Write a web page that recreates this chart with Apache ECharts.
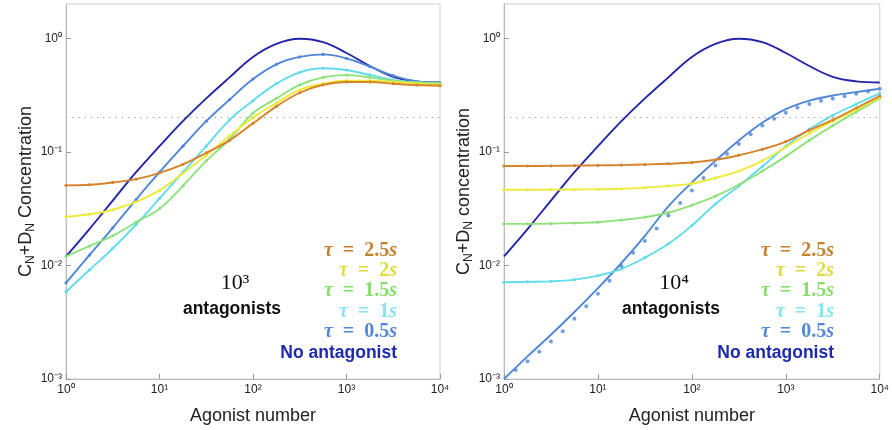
<!DOCTYPE html>
<html><head><meta charset="utf-8">
<script src="https://cdn.jsdelivr.net/npm/echarts@6/dist/echarts.min.js"></script>
<style>html,body{margin:0;padding:0;background:#fff}#c{width:892px;height:430px}</style>
</head><body><div id="c"></div>
<script>
// ---------- data ----------
const agonist = [1, 1.78, 3.16, 5.62, 10, 17.8, 31.6, 56.2, 100, 178, 316, 562, 1000, 1780, 3160, 5620, 10000];
const agonistSim = [1.33, 1.78, 2.37, 3.16, 4.22, 5.62, 7.5, 10, 13.3, 17.8, 23.7, 31.6, 42.2, 56.2, 75, 100,
  133, 178, 237, 316, 422, 562, 750, 1000, 1330, 1780, 2370, 3160, 4220, 5620, 7500, 10000];
const xTickLabels = ['10⁰', '10¹', '10²', '10³', '10⁴'];
const yTickLabels = ['10⁻³', '10⁻²', '10⁻¹', '10⁰'];
const threshold = 0.2;
const legendLabels = ['2.5', '2', '1.5', '1', '0.5'];

// No antagonist (same in both panels)
const noAntagonist = [0.0120, 0.0209, 0.0372, 0.0661, 0.112, 0.186, 0.295, 0.452, 0.684, 0.891, 0.989, 0.923, 0.741, 0.569, 0.457, 0.417, 0.407];

// 10^3 antagonists
const a3_tau05 = [0.00703, 0.0123, 0.0214, 0.0380, 0.0661, 0.112, 0.186, 0.288, 0.437, 0.589, 0.684, 0.720, 0.664, 0.562, 0.468, 0.417, 0.405];
const a3_tau1  = [0.00586, 0.00912, 0.0141, 0.0229, 0.0389, 0.0661, 0.112, 0.191, 0.282, 0.398, 0.501, 0.543, 0.525, 0.475, 0.430, 0.409, 0.403];
const a3_tau15 = [0.0120, 0.0148, 0.0182, 0.0240, 0.0316, 0.0501, 0.0832, 0.129, 0.219, 0.295, 0.389, 0.452, 0.473, 0.452, 0.422, 0.407, 0.400];
const a3_tau2  = [0.0268, 0.0282, 0.0309, 0.0363, 0.0457, 0.0646, 0.0933, 0.138, 0.200, 0.269, 0.351, 0.398, 0.422, 0.422, 0.412, 0.400, 0.390];
const a3_tau25 = [0.0506, 0.0513, 0.0537, 0.0575, 0.0653, 0.0776, 0.0977, 0.126, 0.178, 0.251, 0.331, 0.389, 0.412, 0.412, 0.398, 0.387, 0.382];

// 10^4 antagonists
const a4_tau05 = [0.00100, 0.00158, 0.00245, 0.00389, 0.00631, 0.0105, 0.0182, 0.0331, 0.0537, 0.0832, 0.126, 0.180, 0.237, 0.282, 0.313, 0.335, 0.359];
const a4_tau1  = [0.00711, 0.00716, 0.00724, 0.00750, 0.00813, 0.00933, 0.0117, 0.0155, 0.0224, 0.0347, 0.0501, 0.0741, 0.112, 0.158, 0.209, 0.263, 0.327];
const a4_tau15 = [0.0232, 0.0232, 0.0233, 0.0236, 0.0240, 0.0251, 0.0266, 0.0292, 0.0339, 0.0407, 0.0513, 0.0676, 0.0912, 0.126, 0.170, 0.224, 0.295];
const a4_tau2  = [0.0463, 0.0463, 0.0465, 0.0466, 0.0468, 0.0473, 0.0484, 0.0501, 0.0525, 0.0589, 0.0676, 0.0832, 0.110, 0.145, 0.186, 0.234, 0.299];
const a4_tau25 = [0.0750, 0.0750, 0.0752, 0.0755, 0.0759, 0.0764, 0.0773, 0.0785, 0.0804, 0.0851, 0.0933, 0.105, 0.123, 0.155, 0.191, 0.243, 0.309];
// simulation dots, tau = 0.5 s, 10^4 antagonists
const a4_tau05_sim = [0.00120, 0.00143, 0.00174, 0.00214, 0.00263, 0.00339, 0.00437, 0.00562, 0.00733, 0.00989, 0.0129, 0.0164,
  0.0211, 0.0275, 0.0355, 0.0457, 0.0589, 0.0759, 0.0955, 0.117, 0.143, 0.170, 0.195, 0.221, 0.245, 0.264, 0.282, 0.295,
  0.309, 0.324, 0.339, 0.359];

// ---------- styles ----------
const C = {
  none: '#2424a8', t05: '#4f86d8', t1: '#62dcec', t15: '#8ee27c', t2: '#eeea3a', t25: '#d4832c'
};
const LEG = {
  t25: '#c4822f', t2: '#e2da36', t15: '#86de6a', t1: '#84e6f0', t05: '#5287da', none: '#1d2aac'
};
const supMap = {'-': '⁻', '0': '⁰', '1': '¹', '2': '²', '3': '³', '4': '⁴'};

function pairs(xs, ys) { return xs.map((x, i) => [x, ys[i]]); }
function isPow10(v) { const e = Math.round(Math.log10(v)); return Math.abs(v - Math.pow(10, e)) < 1e-6 * v; }

function lineSeries(name, data, color, gi, marker) {
  return {
    name, type: 'line', xAxisIndex: gi, yAxisIndex: gi, smooth: 0.4,
    data: pairs(agonist, data),
    showSymbol: !!marker, symbol: 'circle', symbolSize: 3.2,
    itemStyle: { color },
    lineStyle: { color, width: 1.9 },
    emphasis: { disabled: true }, silent: true, z: 3
  };
}

const axisFont = 'Liberation Sans, Arial, sans-serif';
function xAxis(gi) {
  return {
    type: 'log', logBase: 10, gridIndex: gi, min: 1, max: 10000,
    name: 'Agonist number', nameLocation: 'middle', nameGap: 28,
    nameTextStyle: { fontSize: 18, color: '#222', fontFamily: axisFont },
    axisLine: { lineStyle: { color: '#bbb', width: 1 } },
    axisTick: { inside: true, length: 5, lineStyle: { color: '#999' } },
    splitLine: { show: false },
    axisLabel: {
      fontSize: 12, color: '#222', fontFamily: axisFont, margin: 5,
      formatter: v => isPow10(v) ? xTickLabels[Math.round(Math.log10(v))] : ''
    }
  };
}
function yAxis(gi, word) {
  return {
    type: 'log', logBase: 10, gridIndex: gi, min: 0.001, max: 2,
    name: '{a|C}{s|N}{a|+D}{s|N}{a| ' + word + '}', nameLocation: 'middle', nameGap: 22,
    nameTextStyle: {
      color: '#222', fontFamily: axisFont,
      rich: {
        a: { fontSize: 18, lineHeight: 22, verticalAlign: 'top', fontFamily: axisFont, color: '#222' },
        s: { fontSize: 12, verticalAlign: 'top', padding: [8, 0, 0, 0], fontFamily: axisFont, color: '#222' }
      }
    },
    axisLine: { lineStyle: { color: '#bbb', width: 1 } },
    axisTick: { inside: true, length: 5, lineStyle: { color: '#999' } },
    splitLine: { show: false },
    axisLabel: {
      fontSize: 12, color: '#222', fontFamily: axisFont, margin: 4, showMaxLabel: false,
      formatter: v => isPow10(v) ? (yTickLabels[Math.round(Math.log10(v)) + 3] || '') : ''
    }
  };
}

const thresholdLine = {
  silent: true, symbol: ['none', 'none'], label: { show: false },
  lineStyle: { color: '#9a9a9a', type: [1.2, 5], width: 1.2 },
  data: [{ yAxis: threshold }]
};

const series = [];
// left panel
series.push(Object.assign(lineSeries('No antagonist', noAntagonist, C.none, 0, false), { markLine: thresholdLine }));
series.push(lineSeries('τ = 0.5s', a3_tau05, C.t05, 0, true));
series.push(lineSeries('τ = 1s', a3_tau1, C.t1, 0, true));
series.push(lineSeries('τ = 1.5s', a3_tau15, C.t15, 0, true));
series.push(lineSeries('τ = 2s', a3_tau2, C.t2, 0, true));
series.push(lineSeries('τ = 2.5s', a3_tau25, C.t25, 0, true));
// right panel
series.push(Object.assign(lineSeries('No antagonist', noAntagonist, C.none, 1, false), { markLine: thresholdLine }));
series.push(lineSeries('τ = 0.5s', a4_tau05, C.t05, 1, false));
series.push(lineSeries('τ = 1s', a4_tau1, C.t1, 1, true));
series.push(lineSeries('τ = 1.5s', a4_tau15, C.t15, 1, true));
series.push(lineSeries('τ = 2s', a4_tau2, C.t2, 1, true));
series.push(lineSeries('τ = 2.5s', a4_tau25, C.t25, 1, true));
series.push({
  name: 'τ = 0.5s (simulation)', type: 'scatter', xAxisIndex: 1, yAxisIndex: 1,
  data: pairs(agonistSim, a4_tau05_sim), symbol: 'circle', symbolSize: 4,
  itemStyle: { color: C.t05 }, silent: true, z: 4
});

// ---------- text annotations ----------
const serif = 'Liberation Serif, DejaVu Serif, serif';
function tauText(x, y, val, color) {
  return {
    type: 'text', x, y, silent: true,
    style: {
      text: '{i|τ}  =  ' + val + '{i|s}', align: 'right', verticalAlign: 'middle',
      font: 'bold 20px ' + serif, fill: color,
      rich: {
        i: { fontStyle: 'italic', fontWeight: 'bold', fontSize: 20, fontFamily: serif, fill: color }
      }
    }
  };
}
function panelTexts(xr, xc, exp) {
  const cols = [LEG.t25, LEG.t2, LEG.t15, LEG.t1, LEG.t05];
  const ys = [251, 271, 291, 311.5, 331.5];
  const out = legendLabels.map((v, i) => tauText(xr, ys[i], v, cols[i]));
  out.push({
    type: 'text', x: xr, y: 353, silent: true,
    style: { text: 'No antagonist', align: 'right', verticalAlign: 'middle', font: 'bold 17.5px ' + axisFont, fill: LEG.none }
  });
  out.push({
    type: 'text', x: xc + 3, y: 283, silent: true,
    style: { text: '10' + supMap[exp], align: 'center', verticalAlign: 'middle', font: '22px ' + serif, fill: '#111' }
  });
  out.push({
    type: 'text', x: xc, y: 309, silent: true,
    style: { text: 'antagonists', align: 'center', verticalAlign: 'middle', font: 'bold 17.5px ' + axisFont, fill: '#111' }
  });
  return out;
}

const chart = echarts.init(document.getElementById('c'), null, { renderer: 'canvas' });
chart.setOption({
  animation: false,
  backgroundColor: '#fff',
  grid: [
    { left: 66, right: 452, top: 4, bottom: 49, show: true, borderColor: '#d0d0d0', borderWidth: 1, backgroundColor: 'transparent' },
    { left: 504, right: 11, top: 4, bottom: 49, show: true, borderColor: '#d0d0d0', borderWidth: 1, backgroundColor: 'transparent' }
  ],
  xAxis: [xAxis(0), xAxis(1)],
  yAxis: [yAxis(0, 'Concentration'), yAxis(1, 'concentration')],
  series,
  graphic: panelTexts(397, 232, '3').concat(panelTexts(834, 671, '4'))
});
</script>
</body></html>
